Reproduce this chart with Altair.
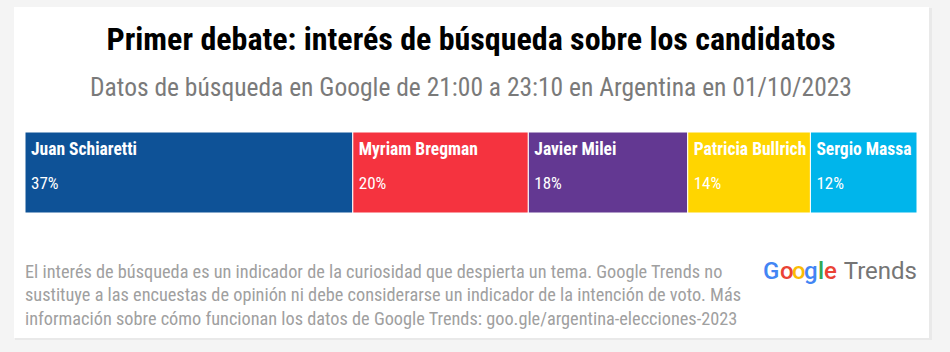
import altair as alt
import pandas as pd

# ---- data ----
candidates = ["Juan Schiaretti", "Myriam Bregman", "Javier Milei", "Patricia Bullrich", "Sergio Massa"]
shares = [36.6, 19.6, 17.8, 13.7, 11.9]
share_labels = ["37%", "20%", "18%", "14%", "12%"]
bar_colors = ["#0e5297", "#f5333f", "#633892", "#ffd500", "#00b5eb"]

title_text = "Primer debate: interés de búsqueda sobre los candidatos"
subtitle_text = "Datos de búsqueda en Google de 21:00 a 23:10 en Argentina en 01/10/2023"
footer_lines = [
    "El interés de búsqueda es un indicador de la curiosidad que despierta un tema. Google Trends no",
    "sustituye a las encuestas de opinión ni debe considerarse un indicador de la intención de voto. Más",
    "información sobre cómo funcionan los datos de Google Trends: goo.gle/argentina-elecciones-2023",
]
logo_letters = ["G", "o", "o", "g", "l", "e"]
logo_colors = ["#4285f4", "#ea4335", "#fbbc05", "#4285f4", "#34a853", "#ea4335"]
logo_x = [763, 780, 792, 804, 818, 824]

COND = "Roboto Condensed, Liberation Sans Narrow, Arial Narrow, DejaVu Sans Condensed, Roboto"

df = pd.DataFrame({
    "candidate": candidates,
    "share": shares,
    "label": share_labels,
    "order": list(range(len(candidates))),
})
total = sum(shares)

one = pd.DataFrame({"k": [0]})

W, H = 950, 352

shadow = alt.Chart(one).mark_rect(color="#e9e9e9").encode(
    x=alt.value(15), x2=alt.value(932), y=alt.value(8), y2=alt.value(340)
)
card = alt.Chart(one).mark_rect(color="#ffffff").encode(
    x=alt.value(14), x2=alt.value(929), y=alt.value(7), y2=alt.value(338)
)

base = alt.Chart(df).transform_window(
    cum="sum(share)", sort=[alt.SortField("order")]
).transform_calculate(start="datum.cum - datum.share")

xscale = alt.Scale(domain=[0, total], range=[25, 917], nice=False, zero=True)

bars = base.mark_rect(stroke="#ffffff", strokeWidth=1).encode(
    x=alt.X("start:Q", scale=xscale, axis=None),
    x2="cum:Q",
    y=alt.value(132),
    y2=alt.value(213),
    color=alt.Color("candidate:N", scale=alt.Scale(domain=candidates, range=bar_colors), legend=None),
)
names = base.mark_text(
    align="left", baseline="middle", dx=6, font=COND, fontSize=17.5, fontWeight="bold", color="white"
).encode(x=alt.X("start:Q", scale=xscale, axis=None), y=alt.value(150), text="candidate:N")
pcts = base.mark_text(
    align="left", baseline="middle", dx=6, font=COND, fontSize=17, color="white"
).encode(x=alt.X("start:Q", scale=xscale, axis=None), y=alt.value(184), text="label:N")

title = alt.Chart(one).mark_text(
    text=title_text, align="center", baseline="middle", font=COND, fontSize=32, fontWeight="bold", color="#000000"
).encode(x=alt.value(471), y=alt.value(40))
subtitle = alt.Chart(one).mark_text(
    text=subtitle_text, align="center", baseline="middle", font=COND, fontSize=25.5, color="#7a7a7a"
).encode(x=alt.value(471), y=alt.value(88))
footer = alt.Chart(one).mark_text(
    text=footer_lines, align="left", baseline="alphabetic", font=COND, fontSize=18.3, lineHeight=23.3, color="#a0a0a0"
).encode(x=alt.value(25), y=alt.value(278))

logo_df = pd.DataFrame({"ch": logo_letters, "col": logo_colors, "px": logo_x})
google = alt.Chart(logo_df).mark_text(
    align="left", baseline="alphabetic", font="Roboto", fontSize=24, fontWeight=500
).encode(
    x=alt.X("px:Q", scale=None),
    y=alt.value(279),
    text="ch:N",
    color=alt.Color("col:N", scale=None),
)
trends = alt.Chart(one).mark_text(
    text="Trends", align="right", baseline="alphabetic", font="Roboto", fontSize=24, color="#757575"
).encode(x=alt.value(917), y=alt.value(279))

chart = alt.layer(shadow, card, bars, names, pcts, title, subtitle, footer, google, trends).properties(
    width=W, height=H, padding=0, autosize=alt.AutoSizeParams(type="none"), background="#f4f4f4"
).configure_view(stroke=None)

chart.save("out.html", embed_options={"renderer": "svg", "actions": False})
